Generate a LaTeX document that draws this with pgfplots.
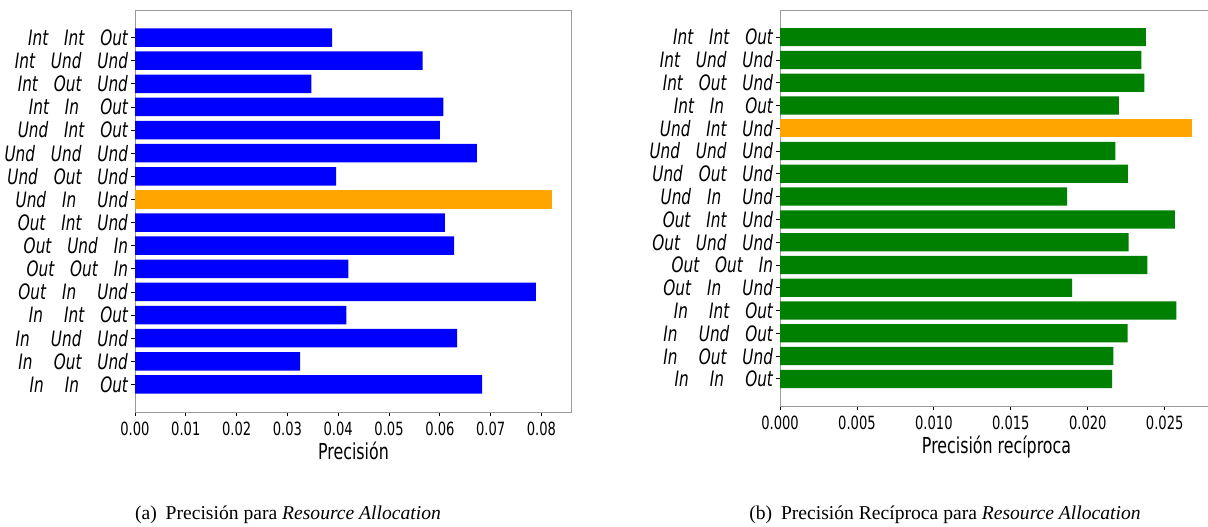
\documentclass[border=0pt]{standalone}
\usepackage{fontspec}
\setmainfont{Liberation Serif}
\newfontfamily\cond[FakeStretch=0.72]{DejaVu Sans}
\usepackage{pgfplots}
\pgfplotsset{compat=1.18}
\definecolor{mblue}{RGB}{0,0,255}
\definecolor{morange}{RGB}{255,165,0}
\definecolor{mgreen}{RGB}{0,128,0}
\newcommand\s{\hspace{0.75em}}
\newcommand\p{\hspace{0.25em}}
\pgfplotsset{mystyle/.style={
  scale only axis, xbar, bar width=0.8, bar shift=0pt,
  ymin=-1.19, ymax=16.19, xmin=0, enlargelimits=false,
  scaled x ticks=false,
  ytick={0,...,15},
  axis line style={gray!80, line width=0.5pt},
  tick pos=left, tick align=outside, major tick length=2pt,
  every tick/.style={black, line width=0.4pt},
  xticklabel style={font=\cond\fontsize{9.1}{10}\selectfont, yshift=0.5pt},
  yticklabel style={font=\cond\itshape\fontsize{10.6}{12}\selectfont, xshift=2pt},
  xlabel style={font=\cond\fontsize{11}{12}\selectfont, yshift=4pt},
}}
\begin{document}
\begin{tikzpicture}
\path[use as bounding box] (0,0) rectangle (604pt,263pt);
\begin{axis}[mystyle, at={(67.5pt,57pt)}, anchor=south west,
  width=218.5pt, height=201pt, xmax=0.0860,
  xtick={0,0.01,0.02,0.03,0.04,0.05,0.06,0.07,0.08},
  xticklabels={0.00,0.01,0.02,0.03,0.04,0.05,0.06,0.07,0.08},
  yticklabels={
    {In\p\s In\p\s Out},
    {In\p\s Out\s Und},
    {In\p\s Und\s Und},
    {In\p\s Int\s Out},
    {Out\s In\p\s Und},
    {Out\s Out\s In},
    {Out\s Und\s In},
    {Out\s Int\s Und},
    {Und\s In\p\s Und},
    {Und\s Out\s Und},
    {Und\s Und\s Und},
    {Und\s Int\s Out},
    {Int\s In\p\s Out},
    {Int\s Out\s Und},
    {Int\s Und\s Und},
    {Int\s Int\s Out}},
  xlabel={Precisión}]
\addplot[draw=none, fill=mblue] coordinates {
  (0.0683,0) (0.0325,1) (0.0634,2) (0.0416,3) (0.0789,4) (0.0420,5)
  (0.0628,6) (0.0610,7) (0.0396,9) (0.0673,10) (0.0600,11)
  (0.0607,12) (0.0347,13) (0.0566,14) (0.0388,15)};
\addplot[draw=none, fill=morange] coordinates {(0.0820,8)};
\end{axis}
\begin{axis}[mystyle, at={(390pt,60pt)}, anchor=south west,
  width=216.5pt, height=198pt, xmax=0.02814,
  xtick={0,0.005,0.010,0.015,0.020,0.025},
  xticklabels={0.000,0.005,0.010,0.015,0.020,0.025},
  yticklabels={
    {In\p\s In\p\s Out},
    {In\p\s Out\s Und},
    {In\p\s Und\s Out},
    {In\p\s Int\s Out},
    {Out\s In\p\s Und},
    {Out\s Out\s In},
    {Out\s Und\s Und},
    {Out\s Int\s Und},
    {Und\s In\p\s Und},
    {Und\s Out\s Und},
    {Und\s Und\s Und},
    {Und\s Int\s Und},
    {Int\s In\p\s Out},
    {Int\s Out\s Und},
    {Int\s Und\s Und},
    {Int\s Int\s Out}},
  xlabel={Precisión recíproca}]
\addplot[draw=none, fill=mgreen] coordinates {
  (0.02159,0) (0.02166,1) (0.02259,2) (0.02576,3) (0.01898,4) (0.02388,5)
  (0.02266,6) (0.02566,7) (0.01866,8) (0.02261,9) (0.02180,10)
  (0.02202,12) (0.02368,13) (0.02349,14) (0.02378,15)};
\addplot[draw=none, fill=morange] coordinates {(0.02680,11)};
\end{axis}
\node[anchor=base, font=\fontsize{9.8}{11}\selectfont] at (144pt,3.5pt)
  {(a)\hspace{0.45em}Precisión para \textit{Resource Allocation}};
\node[anchor=base, font=\fontsize{9.8}{11}\selectfont] at (472.5pt,3.5pt)
  {(b)\hspace{0.45em}Precisión Recíproca para \textit{Resource Allocation}};
\end{tikzpicture}
\end{document}
